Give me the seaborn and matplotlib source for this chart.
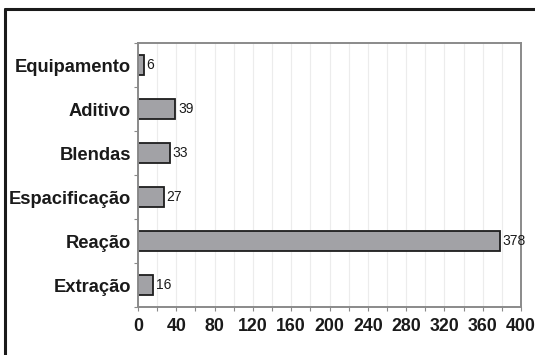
import matplotlib
matplotlib.use("Agg")
import matplotlib.pyplot as plt
from matplotlib.lines import Line2D
from matplotlib.ticker import MultipleLocator, FixedLocator
import seaborn as sns
import pandas as pd

categories = ["Equipamento", "Aditivo", "Blendas", "Espacificação", "Reação", "Extração"]
counts = [6, 39, 33, 27, 378, 16]
x_ticks = [0, 40, 80, 120, 160, 200, 240, 280, 320, 360, 400]

sns.set_style("white")
plt.rcParams["font.family"] = ["Liberation Sans", "DejaVu Sans"]

df = pd.DataFrame({"categoria": categories, "n": counts})

fig = plt.figure(figsize=(5.35, 3.55), dpi=100)
ax = fig.add_axes([138 / 535, 1 - 307 / 355, (521 - 138) / 535, (307 - 43) / 355])

sns.barplot(data=df, x="n", y="categoria", orient="h", color="#a2a2a6",
            edgecolor="#1e1e1e", linewidth=1.3, width=0.45, saturation=1, ax=ax)

ax.set_xlim(0, 400)
ax.set_ylim(len(categories) - 0.5, -0.5)
ax.xaxis.set_major_locator(FixedLocator(x_ticks))
ax.xaxis.set_minor_locator(MultipleLocator(20))
ax.yaxis.set_minor_locator(FixedLocator([i - 0.5 for i in range(len(categories) + 1)]))

ax.grid(True, axis="x", which="both", color="#ececec", linewidth=0.8)
ax.set_axisbelow(True)

for side in ["top", "right", "left", "bottom"]:
    ax.spines[side].set_visible(True)
    ax.spines[side].set_color("#8a8a8a")
    ax.spines[side].set_linewidth(1.4)

ax.tick_params(axis="x", which="both", direction="out", length=3, width=0.8,
               color="#8a8a8a", bottom=True, pad=5)
ax.tick_params(axis="y", which="major", length=0, pad=5)
ax.tick_params(axis="y", which="minor", direction="out", length=3, width=0.8,
               color="#8a8a8a", left=True)

for lbl in ax.get_xticklabels():
    lbl.set_fontweight("bold")
    lbl.set_fontsize(12.8)
    lbl.set_color("#1a1a1a")
for lbl in ax.get_yticklabels():
    lbl.set_fontweight("bold")
    lbl.set_fontsize(13.2)
    lbl.set_color("#1a1a1a")

ax.set_xlabel("")
ax.set_ylabel("")

for i, v in enumerate(counts):
    ax.text(v + 3, i, str(v), va="center", ha="left", fontsize=10,
            color="#1a1a1a")

# outer frame: only the left and top edges fall inside the image
fx = 5 / 535
fy = 1 - 9 / 355
fig.add_artist(Line2D([fx, fx], [0, fy], transform=fig.transFigure,
                      color="#1a1a1a", linewidth=2.2))
fig.add_artist(Line2D([fx, 1], [fy, fy], transform=fig.transFigure,
                      color="#1a1a1a", linewidth=2.2))

fig.savefig("out.png", dpi=100, facecolor="white")
